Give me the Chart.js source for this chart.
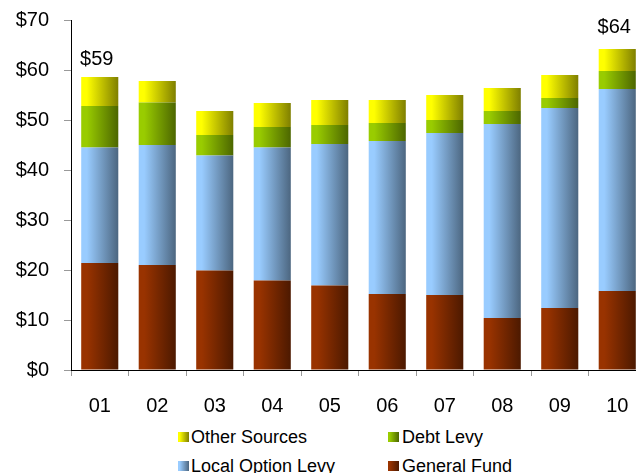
<!DOCTYPE html>
<html>
<head>
<meta charset="utf-8">
<script src="https://cdn.jsdelivr.net/npm/chart.js@4/dist/chart.umd.min.js"></script>
<style>
  html, body { margin:0; padding:0; background:#fff; }
  body { width:636px; height:473px; overflow:hidden; position:relative; font-family:"Liberation Sans", Arial, sans-serif; }
  #wrap { position:absolute; left:0; top:0; width:646px; height:420px; }
  .lg { position:absolute; font-size:18px; line-height:18px; color:#000; white-space:nowrap; }
  .bx { position:absolute; width:11px; height:10px; }
</style>
</head>
<body>
<div id="wrap"><canvas id="c" width="646" height="420"></canvas></div>
<div class="bx" style="left:178px;top:432px;background:linear-gradient(to right,#ffff00 15%,#7f7f00)"></div>
<div class="lg" style="left:191px;top:428px">Other Sources</div>
<div class="bx" style="left:388px;top:432px;background:linear-gradient(to right,#99cc00 15%,#4c6600)"></div>
<div class="lg" style="left:402px;top:428px">Debt Levy</div>
<div class="bx" style="left:178px;top:461px;background:linear-gradient(to right,#99ccff 15%,#4c6680)"></div>
<div class="lg" style="left:191px;top:457px">Local Option Levy</div>
<div class="bx" style="left:388px;top:461px;background:linear-gradient(to right,#993300 15%,#4c1900)"></div>
<div class="lg" style="left:402px;top:457px">General Fund</div>
<script>
const categories = ['01','02','03','04','05','06','07','08','09','10'];
const generalFund     = [21.4, 21.0, 19.9, 17.9, 16.9, 15.2, 15.0, 10.4, 12.4, 15.8];
const localOptionLevy = [23.1, 24.0, 23.0, 26.6, 28.3, 30.6, 32.4, 38.8, 40.0, 40.4];
const debtLevy        = [ 8.3,  8.5,  4.1,  4.1,  3.8,  3.6,  2.6,  2.6,  2.0,  3.6];
const otherSources    = [ 5.8,  4.3,  4.8,  4.8,  5.0,  4.6,  5.0,  4.6,  4.6,  4.4];
const totalLabels     = ['$59','','','','','','','','','$64'];
const yTicks          = [0, 10, 20, 30, 40, 50, 60, 70];

const BAR_FRAC = 0.645;
function grad(c0, c1) {
  return (ctx) => {
    if (ctx.type !== 'data') return c0;
    const chart = ctx.chart;
    const xs = chart.scales.x;
    if (!xs || !chart.chartArea) return c0;
    const cx = xs.getPixelForValue(ctx.dataIndex);
    const w = (xs.width / categories.length) * BAR_FRAC;
    const g = chart.ctx.createLinearGradient(cx - w / 2, 0, cx + w / 2, 0);
    g.addColorStop(0, c0);
    g.addColorStop(0.15, c0);
    g.addColorStop(1, c1);
    return g;
  };
}

const totalLabelPlugin = {
  id: 'totalLabels',
  afterDatasetsDraw(chart, args, opts) {
    const ctx = chart.ctx;
    const xs = chart.scales.x, ys = chart.scales.y;
    ctx.save();
    ctx.font = '20px "Liberation Sans", Arial, sans-serif';
    ctx.fillStyle = '#000';
    ctx.textAlign = 'center';
    ctx.textBaseline = 'alphabetic';
    totalLabels.forEach((t, i) => {
      if (!t) return;
      const total = generalFund[i] + localOptionLevy[i] + debtLevy[i] + otherSources[i];
      const x = xs.getPixelForValue(i) + opts.dx;
      const y = ys.getPixelForValue(total) - (opts.offsets[i] || 14);
      ctx.fillText(t, x, y);
    });
    ctx.restore();
  }
};

const font = { family: '"Liberation Sans", Arial, sans-serif', size: 20 };

new Chart(document.getElementById('c'), {
  type: 'bar',
  data: {
    labels: categories,
    datasets: [
      { label: 'General Fund', data: generalFund, backgroundColor: grad('#993300', '#4c1900') },
      { label: 'Local Option Levy', data: localOptionLevy, backgroundColor: grad('#99ccff', '#4c6680') },
      { label: 'Debt Levy', data: debtLevy, backgroundColor: grad('#99cc00', '#4c6600') },
      { label: 'Other Sources', data: otherSources, backgroundColor: grad('#ffff00', '#7f7f00') }
    ]
  },
  options: {
    responsive: false,
    animation: false,
    events: [],
    layout: { padding: { top: 20, left: 0, right: 0, bottom: 0 } },
    datasets: { bar: { categoryPercentage: 1, barPercentage: BAR_FRAC, borderWidth: 0 } },
    plugins: {
      legend: { display: false },
      tooltip: { enabled: false },
      totalLabels: { dx: -3, offsets: { 0: 12, 9: 16 } }
    },
    scales: {
      x: {
        stacked: true,
        grid: { display: true, drawOnChartArea: false, drawTicks: true, tickLength: 6, color: '#999', offset: true },
        border: { display: true, color: '#000', width: 1 },
        ticks: { color: '#000', font: font, padding: 18, maxRotation: 0 },
        afterFit(s) { s.height = 50; s.paddingLeft = 0; s.paddingRight = 0; }
      },
      y: {
        stacked: true,
        min: 0, max: 70,
        afterBuildTicks(s) { s.ticks = yTicks.map(v => ({ value: v })); },
        grid: { display: true, drawOnChartArea: false, drawTicks: true, tickLength: 7, color: '#999' },
        border: { display: true, color: '#000', width: 1 },
        ticks: { color: '#000', font: font, padding: 15, callback: v => '$' + v },
        afterFit(s) { s.width = 71; s.paddingTop = 0; s.paddingBottom = 0; }
      }
    }
  },
  plugins: [totalLabelPlugin]
});
</script>
</body>
</html>
